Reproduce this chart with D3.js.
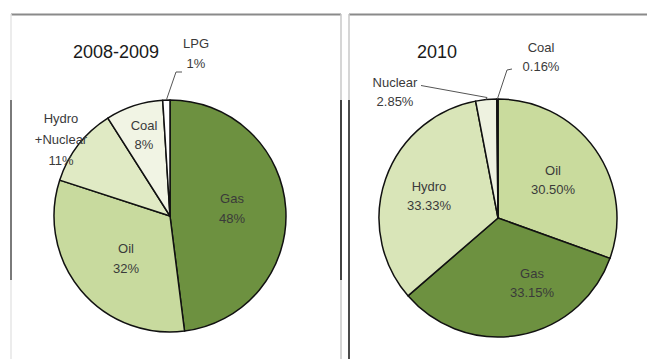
<!DOCTYPE html>
<html>
<head>
<meta charset="utf-8">
<script src="https://cdn.jsdelivr.net/npm/d3@7"></script>
<style>
  html, body { margin: 0; padding: 0; background: #fff; }
  svg { display: block; }
  text { font-family: "Liberation Sans", Arial, sans-serif; }
</style>
</head>
<body>
<svg id="chart" width="647" height="359"></svg>
<script>
// Energy mix shares (%), clockwise from 12 o'clock
const categories0809 = ["Gas", "Oil", "Hydro\n+Nuclear", "Coal", "LPG"];
const values0809 = [48, 32, 11, 8, 1];
const colors0809 = ["#6d9140", "#c8da9e", "#e0eac4", "#f1f4e4", "#ffffff"];

const categories2010 = ["Oil", "Gas", "Hydro", "Nuclear", "Coal"];
const values2010 = [30.50, 33.15, 33.33, 2.85, 0.16];
const labels2010 = ["30.50%", "33.15%", "33.33%", "2.85%", "0.16%"];
const colors2010 = ["#c9db9d", "#6d9140", "#d9e5b8", "#eef2e0", "#ffffff"];

const svg = d3.select("#chart");

// Panel frames
const frame = svg.append("g");
frame.append("line").attr("x1", 11).attr("x2", 341).attr("y1", 14.5).attr("y2", 14.5)
  .attr("stroke", "#8a8a8a").attr("stroke-width", 2);
frame.append("line").attr("x1", 349).attr("x2", 647).attr("y1", 14.5).attr("y2", 14.5)
  .attr("stroke", "#8a8a8a").attr("stroke-width", 2);
frame.append("line").attr("x1", 11).attr("x2", 11).attr("y1", 14).attr("y2", 359)
  .attr("stroke", "#e6e6e6").attr("stroke-width", 1.5);
frame.append("line").attr("x1", 11).attr("x2", 11).attr("y1", 100).attr("y2", 280)
  .attr("stroke", "#555", "").attr("stroke-width", 1.5);
frame.append("line").attr("x1", 341).attr("x2", 341).attr("y1", 14).attr("y2", 359)
  .attr("stroke", "#c8c8c8").attr("stroke-width", 1.5);
frame.append("line").attr("x1", 341).attr("x2", 341).attr("y1", 100).attr("y2", 280)
  .attr("stroke", "#111").attr("stroke-width", 1.5);
frame.append("line").attr("x1", 349).attr("x2", 349).attr("y1", 14).attr("y2", 100)
  .attr("stroke", "#c8c8c8").attr("stroke-width", 1.5);
frame.append("line").attr("x1", 349).attr("x2", 349).attr("y1", 100).attr("y2", 359)
  .attr("stroke", "#111").attr("stroke-width", 1.5);

function drawPie(opts) {
  const g = svg.append("g").attr("transform", `translate(${opts.cx},${opts.cy})`);
  const data = opts.values.map((v, i) => ({ name: opts.categories[i], value: v, label: opts.labels[i], color: opts.colors[i] }));
  const pie = d3.pie().value(d => d.value).sort(null);
  const arc = d3.arc().innerRadius(0).outerRadius(opts.r);
  const arcs = pie(data);

  g.selectAll("path.slice").data(arcs).join("path")
    .attr("class", "slice")
    .attr("d", arc)
    .attr("fill", d => d.data.color)
    .attr("stroke", "#111")
    .attr("stroke-width", 1.5)
    .attr("stroke-linejoin", "round");

  arcs.forEach((a, i) => {
    const p = opts.place[i];
    const lines = a.data.name.split("\n").concat([a.data.label]);
    const t = g.append("text")
      .attr("text-anchor", "middle")
      .attr("font-size", 13)
      .attr("fill", "#3a3a3a");
    lines.forEach((s, k) => {
      t.append("tspan").attr("x", p.x - opts.cx).attr("y", p.y - opts.cy + k * p.lh).text(s);
    });
    if (p.leader) {
      const mid = (a.startAngle + a.endAngle) / 2;
      const sx = Math.sin(mid) * opts.r, sy = -Math.cos(mid) * opts.r;
      const pts = [[sx, sy]].concat(p.leader.map(q => [q[0] - opts.cx, q[1] - opts.cy]));
      g.append("path")
        .attr("d", d3.line()(pts))
        .attr("fill", "none")
        .attr("stroke", "#555")
        .attr("stroke-width", 1);
    }
  });

  svg.append("text")
    .attr("x", opts.title.x).attr("y", opts.title.y)
    .attr("text-anchor", "middle")
    .attr("font-size", 18)
    .attr("fill", "#1a1a1a")
    .text(opts.title.text);
}

drawPie({
  cx: 170, cy: 216, r: 116,
  categories: categories0809,
  values: values0809,
  labels: values0809.map(v => v + "%"),
  colors: colors0809,
  title: { text: "2008-2009", x: 116, y: 58 },
  place: [
    { x: 232, y: 203, lh: 20 },
    { x: 126, y: 253, lh: 20 },
    { x: 61, y: 123, lh: 21 },
    { x: 144, y: 130, lh: 19 },
    { x: 196, y: 48, lh: 20, leader: [[176, 72], [182, 72]] }
  ]
});

drawPie({
  cx: 498, cy: 218, r: 119,
  categories: categories2010,
  values: values2010,
  labels: labels2010,
  colors: colors2010,
  title: { text: "2010", x: 437, y: 58 },
  place: [
    { x: 553, y: 175, lh: 19 },
    { x: 532, y: 278, lh: 19 },
    { x: 429, y: 191, lh: 19 },
    { x: 395, y: 87, lh: 19, leader: [[487, 97.5], [421, 85.5]] },
    { x: 541, y: 52, lh: 19, leader: [[507, 70], [512, 69]] }
  ]
});
</script>
</body>
</html>
